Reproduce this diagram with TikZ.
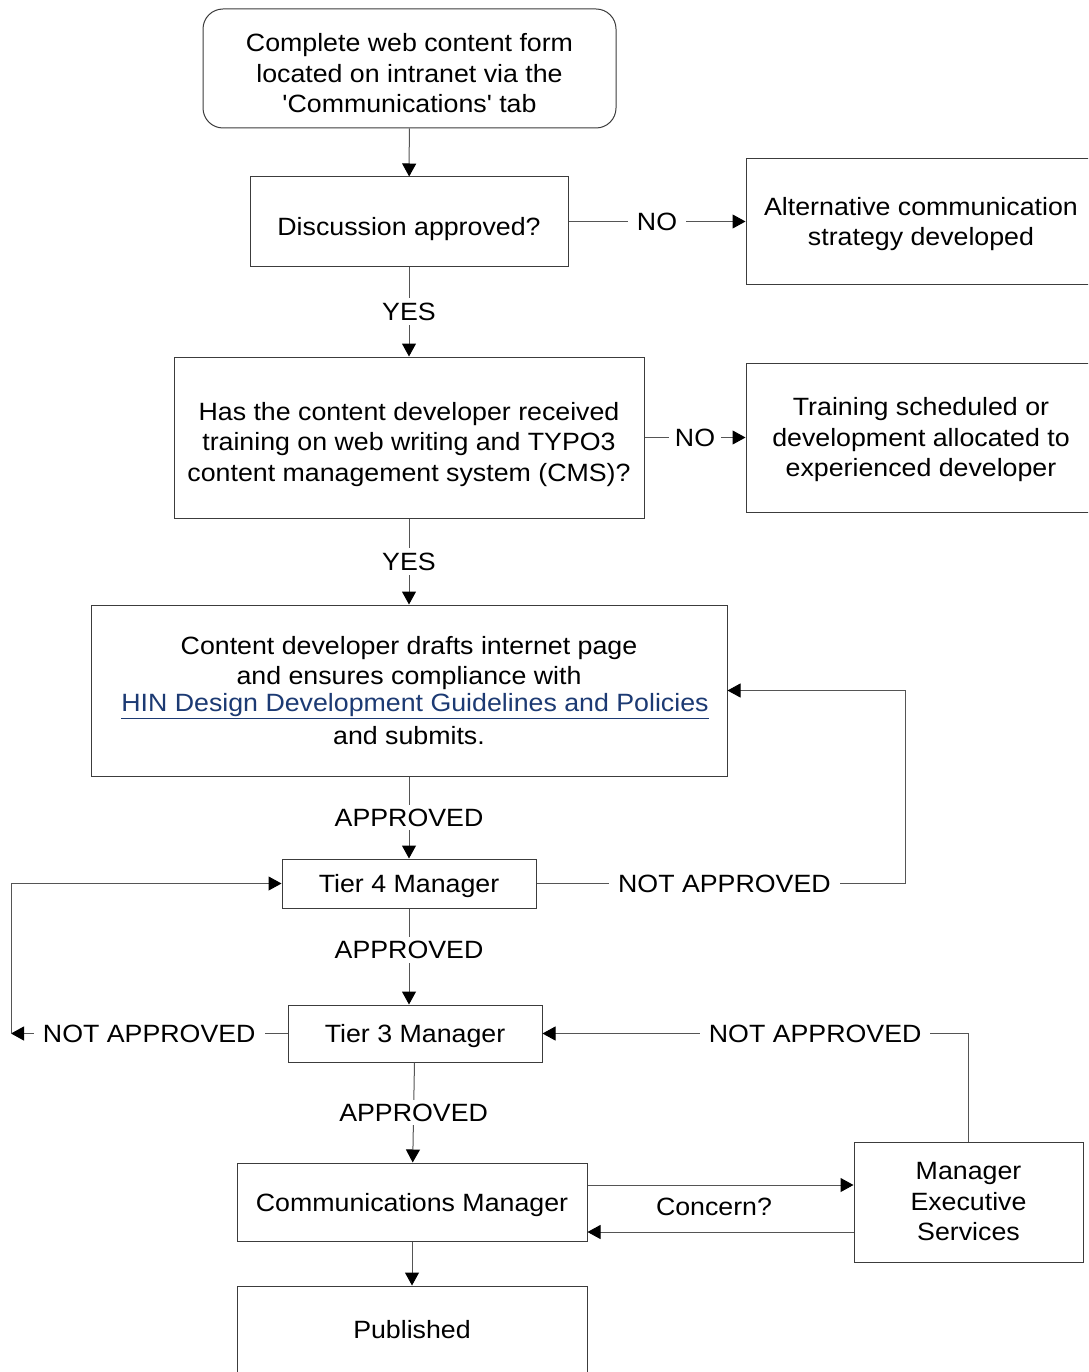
\documentclass[tikz,border=0pt]{standalone}
\usepackage{fontspec}
\setmainfont[FakeStretch=1.07, Ligatures=TeXOff]{Liberation Sans}
\usetikzlibrary{arrows.meta}
\definecolor{linkblue}{RGB}{28,58,115}
\definecolor{boxline}{RGB}{60,60,60}
\definecolor{conline}{RGB}{85,85,85}
\newcommand\fsz{\fontsize{25}{30.5}\selectfont}
\begin{document}
\begin{tikzpicture}[x=1pt,y=-1pt,
  box/.style={draw=boxline, line width=1pt, inner sep=0pt},
  lab/.style={align=center, inner sep=0pt, font=\fsz},
  arr/.style={draw=conline, line width=1pt, -{Triangle[length=13pt,width=14pt,color=black]}},
  lbl/.style={fill=white, inner xsep=9pt, inner ysep=5pt, font=\fsz},
  plain/.style={inner sep=0pt, font=\fsz}]
\clip (0,0) rectangle (1088,1372);
\fill[white] (0,0) rectangle (1088,1372);

% nodes
\node[box, rounded corners=20pt, minimum width=413pt, minimum height=119pt,
  label={[lab, yshift=-5pt]center:{Complete web content form\\located on intranet via the\\'Communications' tab}}]
  (start) at (409.5,68.5) {};
\node[box, minimum width=318pt, minimum height=89pt,
  label={[lab, yshift=-8pt]center:{Discussion approved?}}] (disc) at (409,221.5) {};
\node[box, minimum width=350pt, minimum height=125pt,
  label={[lab, yshift=-2.5pt]center:{Alternative communication\\strategy developed}}] (alt) at (921,221.5) {};
\node[box, minimum width=470pt, minimum height=161pt,
  label={[lab, yshift=-7pt]center:{Has the content developer received\\training on web writing and TYPO3\\content management system (CMS)?}}]
  (has) at (409,437.5) {};
\node[box, minimum width=350pt, minimum height=149pt,
  label={[lab, yshift=-2.5pt]center:{Training scheduled or\\development allocated to\\experienced developer}}]
  (train) at (921,437.5) {};
\node[box, minimum width=636pt, minimum height=171pt,
  label={[lab]center:{Content developer drafts internet page\\and ensures compliance with\\[-4pt]
   \hspace*{12pt}{\color{linkblue}\underline{HIN Design Development Guidelines and Policies}}\\[3pt]
   and submits.}}] (content) at (409,690.5) {};
\node[box, minimum width=254pt, minimum height=49pt,
  label={[lab, yshift=-3pt]center:{Tier 4 Manager}}] (t4) at (409,883.5) {};
\node[box, minimum width=254pt, minimum height=57pt,
  label={[lab, yshift=-3pt]center:{Tier 3 Manager}}] (t3) at (415,1033.5) {};
\node[box, minimum width=350pt, minimum height=78pt,
  label={[lab, yshift=-3pt]center:{Communications Manager}}] (comm) at (412,1202) {};
\node[box, minimum width=229pt, minimum height=120pt,
  label={[lab]center:{Manager\\Executive\\Services}}] (mes) at (968.5,1202) {};
\node[box, minimum width=350pt, minimum height=88pt,
  label={[lab]center:{Published}}] (pub) at (412,1330) {};

\coordinate (r1) at (905,0);
\coordinate (l1) at (11,1031);

% connectors
\draw[arr] (start) -- (disc);
\draw[arr] (disc) -- node[lbl]{NO} (alt);
\draw[arr] (disc) -- node[lbl]{YES} (has);
\draw[arr] (has) -- node[lbl, inner xsep=6pt]{NO} (train);
\draw[arr] (has) -- node[lbl]{YES} (content);
\draw[arr] (content) -- node[lbl, inner ysep=4pt]{APPROVED} (t4);
\draw[arr] (t4.south) -- node[lbl, pos=0.43, inner ysep=4pt]{APPROVED} (t4.south |- t3.north);
\draw[arr] (t3) -- node[lbl, inner ysep=4pt]{APPROVED} (comm);
\draw[arr] (comm) -- (pub);

\draw[arr] (t4.east) -- node[lbl, pos=0.51]{NOT APPROVED} (t4.east -| r1) |- (content.east);
\draw[arr] (t3.west) -- node[lbl, pos=0.5]{NOT APPROVED} (t3.west -| l1);
\draw[arr] (t3.west -| l1) |- (t4.west);
\draw[arr] (mes.north) |- node[lbl, pos=0.68]{NOT APPROVED} (t3.east);

\draw[arr] ([yshift=17pt]comm.east) -- ([yshift=17pt]comm.east -| mes.west);
\draw[arr] ([yshift=-30pt]mes.west) -- ([yshift=-30pt]mes.west -| comm.east);
\node[plain] (concern) at (714,1207) {Concern?};
\end{tikzpicture}
\end{document}
